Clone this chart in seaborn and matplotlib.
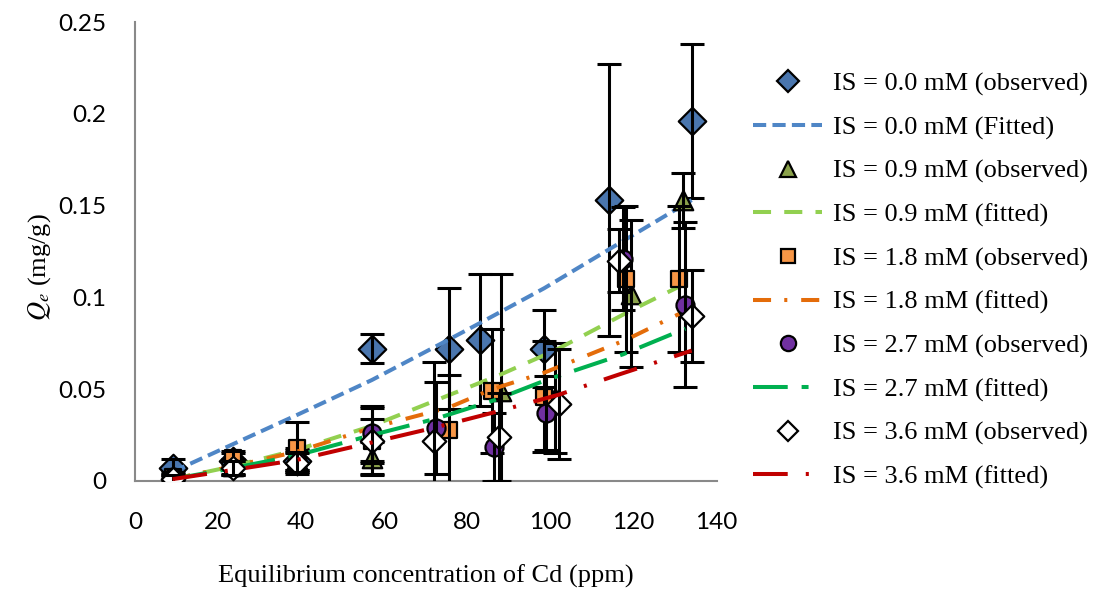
import matplotlib
matplotlib.use("Agg")
import matplotlib.pyplot as plt
import seaborn as sns
from matplotlib.lines import Line2D

x_00 = [9, 23.5, 39, 57, 75.5, 83, 98.5, 114, 134]
y_00 = [0.007, 0.011, 0.011, 0.072, 0.072, 0.077, 0.072, 0.153, 0.196]
e_00 = [0.005, 0.004, 0.006, 0.008, 0.033, 0.036, 0.021, 0.074, 0.042]

x_09 = [9, 23.5, 39, 57, 88, 101, 119.5, 132]
y_09 = [0.001, 0.008, 0.012, 0.0125, 0.049, 0.045, 0.102, 0.153]
e_09 = [0.002, 0.004, 0.006, 0.009, 0.064, 0.03, 0.04, 0.015]

x_18 = [9, 23.5, 39, 57, 75.5, 86, 98.5, 118.3, 131]
y_18 = [0.002, 0.0125, 0.018, 0.022, 0.028, 0.049, 0.046, 0.11, 0.11]
e_18 = [0.002, 0.004, 0.014, 0.012, 0.03, 0.034, 0.03, 0.04, 0.04]

x_27 = [9, 23.5, 39, 57, 72.5, 86.5, 99, 117.5, 132.5]
y_27 = [0.002, 0.007, 0.011, 0.026, 0.029, 0.0185, 0.037, 0.121, 0.096]
e_27 = [0.003, 0.004, 0.005, 0.015, 0.025, 0.0185, 0.02, 0.028, 0.045]

x_36 = [9, 23.5, 39, 57, 72, 87.5, 102, 116.5, 134]
y_36 = [0.001, 0.007, 0.01, 0.022, 0.022, 0.024, 0.042, 0.12, 0.09]
e_36 = [0.002, 0.004, 0.005, 0.018, 0.043, 0.024, 0.03, 0.017, 0.025]

# fitted curves
f_00 = [0.005, 0.020, 0.036, 0.055, 0.077, 0.086, 0.105, 0.126, 0.153]
f_09 = [0.001, 0.008, 0.017, 0.030, 0.058, 0.071, 0.093, 0.107]
f_18 = [0.001, 0.008, 0.016, 0.029, 0.040, 0.050, 0.059, 0.077, 0.091]
f_27 = [0.001, 0.007, 0.014, 0.025, 0.034, 0.044, 0.055, 0.069, 0.083]
f_36 = [0.001, 0.006, 0.0115, 0.021, 0.029, 0.038, 0.047, 0.058, 0.071]

plt.rcParams['lines.scale_dashes'] = False
plt.rcParams['mathtext.fontset'] = 'stix'

fig = plt.figure(figsize=(10.99, 5.89), dpi=100)
ax = fig.add_axes([0.123, 0.1834, 0.529, 0.7792])

lw = 2.9
series = [
    (x_00, y_00, e_00, f_00, 'D', 14, 11, '#4A76AE', '#4F86C6', (0, (9.5, 4.5)), 'IS = 0.0 mM (observed)', 'IS = 0.0 mM (Fitted)'),
    (x_09, y_09, e_09, f_09, '^', 14, 12, '#8BA24B', '#92D050', (0, (13, 9.5)), 'IS = 0.9 mM (observed)', 'IS = 0.9 mM (fitted)'),
    (x_18, y_18, e_18, f_18, 's', 12, 10.5, '#F79646', '#E46C0A', (0, (13, 9.5, 2.2, 10)), 'IS = 1.8 mM (observed)', 'IS = 1.8 mM (fitted)'),
    (x_27, y_27, e_27, f_27, 'o', 13, 11, '#7030A0', '#00B050', (0, (25, 10, 5, 10)), 'IS = 2.7 mM (observed)', 'IS = 2.7 mM (fitted)'),
    (x_36, y_36, e_36, f_36, 'D', 12, 10, 'white', '#C00000', (0, (25, 13, 2.2, 13)), 'IS = 3.6 mM (observed)', 'IS = 3.6 mM (fitted)'),
]

handles, labels = [], []
z = 2
for xs, ys, es, fs, mk, ms, lms, fc, lc, ls, lab_o, lab_f in series:
    sns.scatterplot(x=xs, y=ys, ax=ax, marker=mk, s=ms ** 2, color=fc,
                    edgecolor='black', linewidth=1.6, zorder=z, legend=False)
    ax.errorbar(xs, ys, yerr=es, fmt='none', ecolor='black', elinewidth=2.2,
                capsize=8.5, capthick=2.2, zorder=z + 0.1)
    sns.lineplot(x=xs, y=fs, ax=ax, color=lc, linewidth=lw, linestyle=ls,
                 sort=False, estimator=None, zorder=z + 0.2, legend=False)
    z += 1
    handles.append(Line2D([], [], linestyle='none', marker=mk, markersize=lms,
                          markerfacecolor=fc, markeredgecolor='black', markeredgewidth=1.6))
    labels.append(lab_o)
    handles.append(Line2D([], [], color=lc, linewidth=lw, linestyle=ls))
    labels.append(lab_f)

ax.set_xlim(0, 140)
ax.set_ylim(0, 0.25)
ax.set_xticks(range(0, 141, 20))
ax.set_yticks([0, 0.05, 0.1, 0.15, 0.2, 0.25])
ax.set_yticklabels(['0', '0.05', '0.1', '0.15', '0.2', '0.25'])
ax.tick_params(length=0, labelsize=17.5, labelcolor='#000000')
ax.tick_params(axis='x', pad=22)
ax.tick_params(axis='y', pad=21)
for lab in ax.get_xticklabels() + ax.get_yticklabels():
    lab.set_fontfamily('Lato')
ax.spines['top'].set_visible(False)
ax.spines['right'].set_visible(False)
for s in ('left', 'bottom'):
    ax.spines[s].set_color('#898989')
    ax.spines[s].set_linewidth(1.5)
ax.set_facecolor('white')

ax.set_xlabel('Equilibrium concentration of Cd (ppm)', fontfamily='Liberation Serif',
              fontsize=19)
ax.xaxis.set_label_coords(0.5, -0.183)
ax.set_ylabel('$Q_e$ (mg/g)', fontfamily='Liberation Serif', fontsize=19)
ax.yaxis.set_label_coords(-0.142, 0.465)

fig.legend(handles, labels, loc='upper left', bbox_to_anchor=(0.664, 0.918),
           frameon=False, prop={'family': 'Liberation Serif', 'size': 19},
           handlelength=2.6, labelspacing=0.75, handletextpad=0.42)

fig.savefig('out.png', dpi=100, facecolor='white')
